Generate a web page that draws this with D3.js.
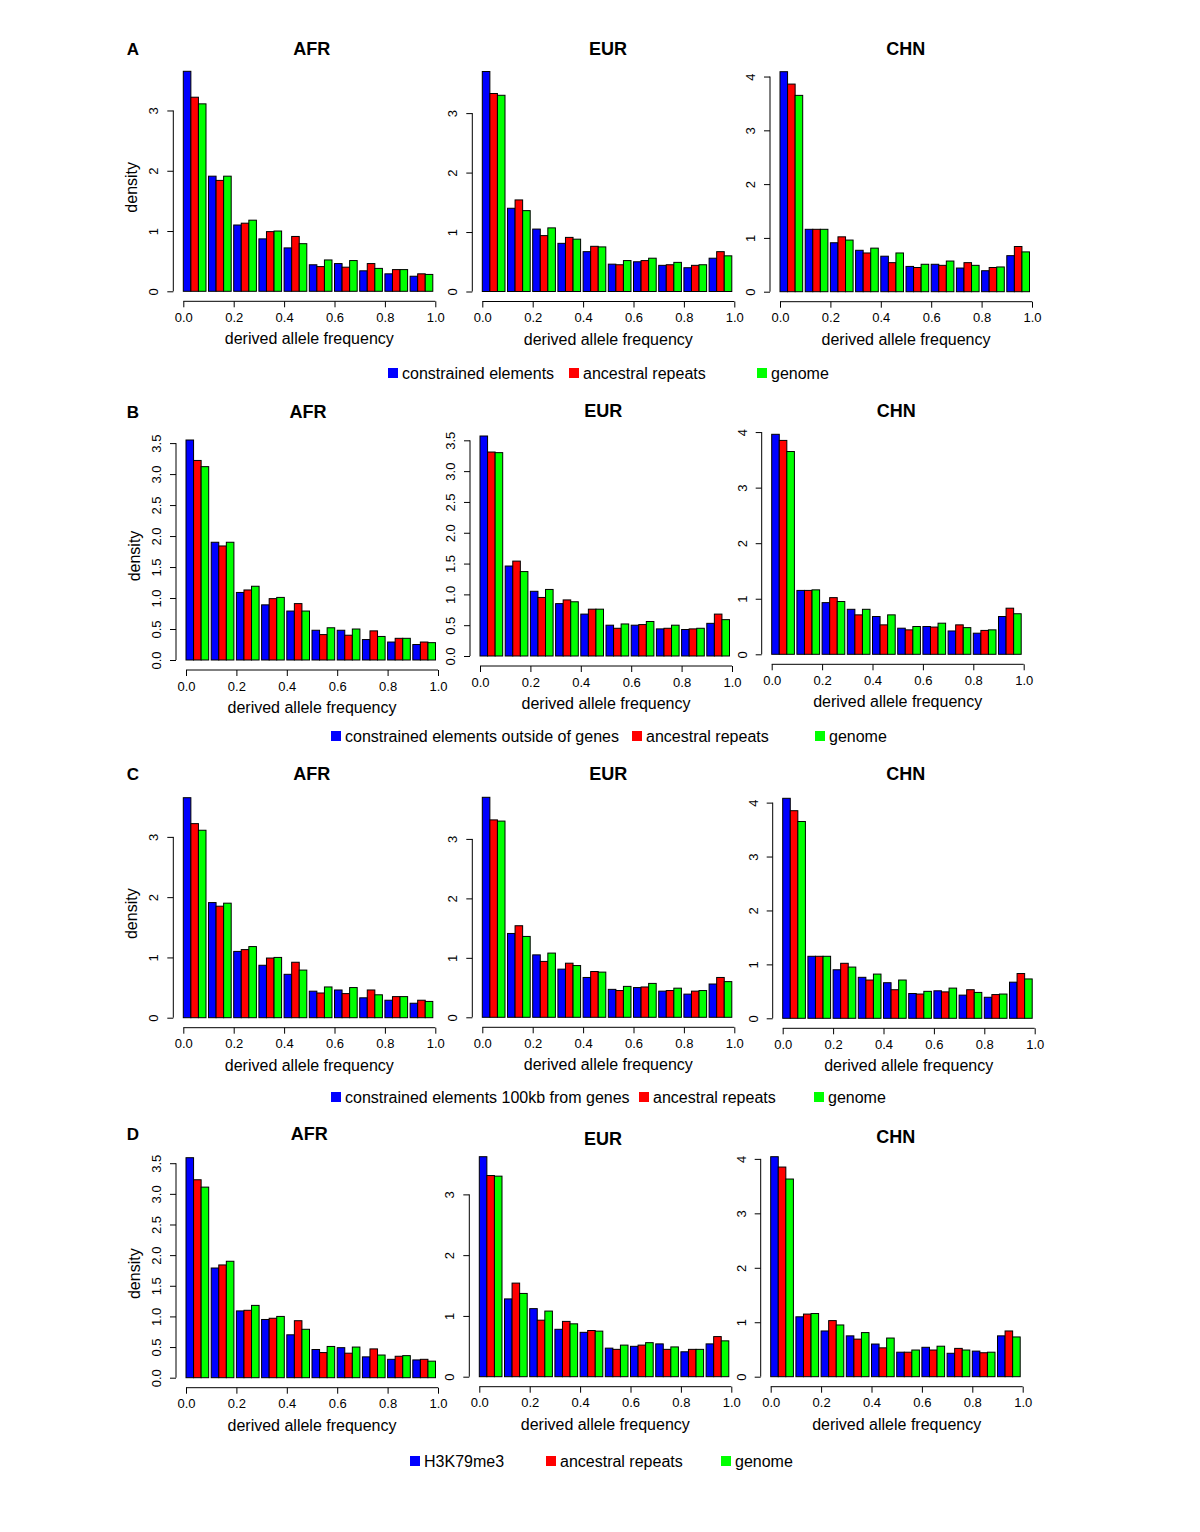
<!DOCTYPE html>
<html><head><meta charset="utf-8">
<script src="https://cdn.jsdelivr.net/npm/d3@7"></script>
<style>
body{margin:0;background:#fff}
svg{display:block}
text{font-family:"Liberation Sans",Arial,Helvetica,sans-serif;fill:#000}
</style>
</head><body>
<svg id="chart" width="1200" height="1532"></svg>
<script>
// ---------------- DATA ----------------
const bins = [0.0, 0.1, 0.2, 0.3, 0.4, 0.5, 0.6, 0.7, 0.8, 0.9];
const xTicks = [0.0, 0.2, 0.4, 0.6, 0.8, 1.0];
const populations = ["AFR", "EUR", "CHN"];
const panelLetters = ["A", "B", "C", "D"];
const xLabel = "derived allele frequency";
const yLabel = "density";

// y tick sets
const ticksInt3 = [0, 1, 2, 3];
const ticksInt4 = [0, 1, 2, 3, 4];
const ticksHalf = [0.0, 0.5, 1.0, 1.5, 2.0, 2.5, 3.0, 3.5];

// legends
const legendA = ["constrained elements", "ancestral repeats", "genome"];
const legendB = ["constrained elements outside of genes", "ancestral repeats", "genome"];
const legendC = ["constrained elements 100kb from genes", "ancestral repeats", "genome"];
const legendD = ["H3K79me3", "ancestral repeats", "genome"];

// Row A
const A_AFR_focal     = [3.65, 1.91, 1.10, 0.87, 0.72, 0.44, 0.46, 0.34, 0.29, 0.25];
const A_AFR_ancestral = [3.22, 1.84, 1.13, 0.99, 0.91, 0.41, 0.40, 0.46, 0.36, 0.29];
const A_AFR_genome    = [3.11, 1.91, 1.18, 1.00, 0.79, 0.52, 0.51, 0.38, 0.36, 0.28];
const A_EUR_focal     = [3.70, 1.40, 1.05, 0.81, 0.67, 0.46, 0.50, 0.44, 0.40, 0.56];
const A_EUR_ancestral = [3.33, 1.54, 0.94, 0.91, 0.76, 0.45, 0.52, 0.45, 0.44, 0.67];
const A_EUR_genome    = [3.30, 1.36, 1.07, 0.88, 0.75, 0.52, 0.56, 0.49, 0.45, 0.60];
const A_CHN_focal     = [4.09, 1.16, 0.91, 0.77, 0.66, 0.47, 0.51, 0.44, 0.39, 0.67];
const A_CHN_ancestral = [3.86, 1.16, 1.02, 0.72, 0.54, 0.45, 0.49, 0.54, 0.45, 0.84];
const A_CHN_genome    = [3.65, 1.16, 0.96, 0.81, 0.72, 0.51, 0.57, 0.49, 0.46, 0.74];

// Row B
const B_AFR_focal     = [3.55, 1.90, 1.09, 0.89, 0.79, 0.48, 0.48, 0.33, 0.29, 0.25];
const B_AFR_ancestral = [3.22, 1.84, 1.13, 0.99, 0.91, 0.41, 0.40, 0.47, 0.35, 0.29];
const B_AFR_genome    = [3.12, 1.90, 1.19, 1.01, 0.79, 0.52, 0.50, 0.38, 0.35, 0.28];
const B_EUR_focal     = [3.57, 1.46, 1.05, 0.85, 0.68, 0.50, 0.50, 0.44, 0.43, 0.53];
const B_EUR_ancestral = [3.31, 1.54, 0.95, 0.91, 0.76, 0.45, 0.51, 0.45, 0.44, 0.68];
const B_EUR_genome    = [3.30, 1.37, 1.08, 0.88, 0.76, 0.52, 0.56, 0.50, 0.45, 0.59];
const B_CHN_focal     = [3.96, 1.15, 0.93, 0.81, 0.68, 0.47, 0.50, 0.42, 0.38, 0.68];
const B_CHN_ancestral = [3.85, 1.15, 1.02, 0.71, 0.53, 0.44, 0.49, 0.53, 0.43, 0.83];
const B_CHN_genome    = [3.65, 1.16, 0.95, 0.81, 0.71, 0.50, 0.56, 0.48, 0.44, 0.73];

// Row C
const C_AFR_focal     = [3.65, 1.91, 1.10, 0.87, 0.72, 0.44, 0.46, 0.33, 0.29, 0.24];
const C_AFR_ancestral = [3.22, 1.85, 1.13, 0.99, 0.92, 0.41, 0.40, 0.46, 0.35, 0.29];
const C_AFR_genome    = [3.11, 1.90, 1.18, 1.00, 0.79, 0.51, 0.50, 0.38, 0.35, 0.27];
const C_EUR_focal     = [3.70, 1.41, 1.05, 0.81, 0.67, 0.47, 0.50, 0.44, 0.39, 0.56];
const C_EUR_ancestral = [3.32, 1.54, 0.94, 0.91, 0.77, 0.45, 0.51, 0.45, 0.44, 0.67];
const C_EUR_genome    = [3.30, 1.36, 1.08, 0.87, 0.76, 0.52, 0.57, 0.49, 0.45, 0.60];
const C_CHN_focal     = [4.08, 1.15, 0.90, 0.76, 0.66, 0.46, 0.51, 0.43, 0.39, 0.67];
const C_CHN_ancestral = [3.85, 1.15, 1.02, 0.71, 0.53, 0.45, 0.49, 0.53, 0.44, 0.83];
const C_CHN_genome    = [3.65, 1.15, 0.95, 0.82, 0.71, 0.50, 0.56, 0.48, 0.45, 0.73];

// Row D
const D_AFR_focal     = [3.59, 1.79, 1.09, 0.95, 0.70, 0.46, 0.49, 0.34, 0.30, 0.29];
const D_AFR_ancestral = [3.23, 1.84, 1.10, 0.97, 0.93, 0.41, 0.40, 0.47, 0.35, 0.30];
const D_AFR_genome    = [3.11, 1.90, 1.18, 1.00, 0.79, 0.51, 0.50, 0.37, 0.36, 0.27];
const D_EUR_focal     = [3.62, 1.28, 1.12, 0.78, 0.73, 0.47, 0.50, 0.54, 0.41, 0.54];
const D_EUR_ancestral = [3.31, 1.54, 0.93, 0.91, 0.76, 0.45, 0.52, 0.45, 0.45, 0.66];
const D_EUR_genome    = [3.30, 1.37, 1.08, 0.87, 0.75, 0.52, 0.56, 0.49, 0.45, 0.59];
const D_CHN_focal     = [4.04, 1.10, 0.84, 0.75, 0.60, 0.45, 0.54, 0.43, 0.47, 0.75];
const D_CHN_ancestral = [3.85, 1.15, 1.03, 0.69, 0.53, 0.45, 0.49, 0.52, 0.44, 0.84];
const D_CHN_genome    = [3.63, 1.16, 0.95, 0.81, 0.71, 0.49, 0.56, 0.49, 0.45, 0.73];

// ---------------- STYLE / LAYOUT ----------------
const colors = ["#0000ff", "#ff0000", "#00ff00"];
const plotW = 252;      // px for x from 0 to 1
const plotHmax = 220;   // px for tallest bar

const rows = [
  { letter: "A", legend: legendA, legendY: 373, legendX: [388, 569, 757], letterY: 48,
    series: [[A_AFR_focal, A_AFR_ancestral, A_AFR_genome], [A_EUR_focal, A_EUR_ancestral, A_EUR_genome], [A_CHN_focal, A_CHN_ancestral, A_CHN_genome]],
    ticks: [ticksInt3, ticksInt3, ticksInt4],
    panels: [{x0:183.3, y0:291.3, tx:311.7, ty:48}, {x0:482.3, y0:291.5, tx:608, ty:48}, {x0:780, y0:291.7, tx:905.7, ty:48}] },
  { letter: "B", legend: legendB, legendY: 736, legendX: [331, 632, 815], letterY: 411.7,
    series: [[B_AFR_focal, B_AFR_ancestral, B_AFR_genome], [B_EUR_focal, B_EUR_ancestral, B_EUR_genome], [B_CHN_focal, B_CHN_ancestral, B_CHN_genome]],
    ticks: [ticksHalf, ticksHalf, ticksInt4],
    panels: [{x0:186, y0:660, tx:308, ty:411.7}, {x0:480, y0:656, tx:603.3, ty:410}, {x0:771.7, y0:654.3, tx:896.2, ty:410}] },
  { letter: "C", legend: legendC, legendY: 1097, legendX: [331, 639, 814], letterY: 773.3,
    series: [[C_AFR_focal, C_AFR_ancestral, C_AFR_genome], [C_EUR_focal, C_EUR_ancestral, C_EUR_genome], [C_CHN_focal, C_CHN_ancestral, C_CHN_genome]],
    ticks: [ticksInt3, ticksInt3, ticksInt4],
    panels: [{x0:183.3, y0:1017.7, tx:311.7, ty:773.3}, {x0:482.3, y0:1017.3, tx:608.3, ty:773.3}, {x0:782.7, y0:1018.3, tx:905.7, ty:773.3}] },
  { letter: "D", legend: legendD, legendY: 1461, legendX: [410, 546, 721], letterY: 1133.3,
    series: [[D_AFR_focal, D_AFR_ancestral, D_AFR_genome], [D_EUR_focal, D_EUR_ancestral, D_EUR_genome], [D_CHN_focal, D_CHN_ancestral, D_CHN_genome]],
    ticks: [ticksHalf, ticksInt3, ticksInt4],
    panels: [{x0:186, y0:1377.7, tx:309.2, ty:1133.3}, {x0:479.3, y0:1376.7, tx:603, ty:1138.3}, {x0:770.7, y0:1376.7, tx:895.7, ty:1136.7}] }
];

const svg = d3.select("#chart");
svg.append("rect").attr("width", 1200).attr("height", 1532).attr("fill", "#fff");

rows.forEach(row => {
  // panel letter
  svg.append("text").attr("x", 133).attr("y", row.letterY + 6.5)
    .attr("text-anchor", "middle").attr("font-size", 17).attr("font-weight", "bold").text(row.letter);

  row.panels.forEach((p, pi) => {
    const series = row.series[pi];
    const maxV = d3.max(series.flat());
    const x = d3.scaleLinear().domain([0, 1]).range([p.x0, p.x0 + plotW]);
    const y = d3.scaleLinear().domain([0, maxV]).range([p.y0, p.y0 - plotHmax]);
    const binW = 0.1;
    const barW = binW / 3.33;
    const g = svg.append("g");

    // bars
    series.forEach((vals, si) => {
      g.selectAll(null).data(vals).enter().append("rect")
        .attr("x", (d, i) => x(bins[i] + si * barW))
        .attr("width", x(barW) - x(0))
        .attr("y", d => y(d))
        .attr("height", d => y(0) - y(d))
        .attr("fill", colors[si])
        .attr("stroke", "#000")
        .attr("stroke-width", 1);
    });

    // y axis
    const yAxisX = p.x0 - 10;
    const ticks = row.ticks[pi];
    const fmt = ticks === ticksHalf ? d3.format(".1f") : d3.format("d");
    const ya = svg.append("g").attr("transform", `translate(${yAxisX},0)`)
      .call(d3.axisLeft(y).tickValues(ticks).tickFormat(fmt).tickSize(6).tickSizeOuter(0));
    ya.select(".domain").remove();
    ya.append("line").attr("x1", 0).attr("x2", 0)
      .attr("y1", y(ticks[0])).attr("y2", y(ticks[ticks.length - 1]))
      .attr("stroke", "#000").attr("stroke-width", 1);
    ya.selectAll(".tick line").attr("stroke", "#000");
    ya.selectAll(".tick text")
      .attr("font-family", "Liberation Sans, Arial, sans-serif")
      .attr("font-size", 13).attr("fill", "#000")
      .attr("x", null).attr("dy", null)
      .attr("text-anchor", "middle")
      .attr("transform", "translate(-15,0) rotate(-90)");

    // x axis
    const xAxisY = p.y0 + 10;
    const xa = svg.append("g").attr("transform", `translate(0,${xAxisY})`)
      .call(d3.axisBottom(x).tickValues(xTicks).tickFormat(d3.format(".1f")).tickSize(6).tickSizeOuter(0));
    xa.select(".domain").attr("stroke", "#000").attr("d", `M${x(0)},0H${x(1)}`);
    xa.selectAll(".tick line").attr("stroke", "#000");
    xa.selectAll(".tick text")
      .attr("font-family", "Liberation Sans, Arial, sans-serif")
      .attr("font-size", 13).attr("fill", "#000")
      .attr("dy", null).attr("y", 20.5);

    // x label
    svg.append("text").attr("x", (x(0) + x(1)) / 2).attr("y", xAxisY + 43)
      .attr("text-anchor", "middle").attr("font-size", 16).text(xLabel);

    // y label on first panel
    if (pi === 0) {
      svg.append("text")
        .attr("transform", `translate(${yAxisX - 36},${p.y0 - 104}) rotate(-90)`)
        .attr("text-anchor", "middle").attr("font-size", 16).text(yLabel);
    }

    // title
    svg.append("text").attr("x", p.tx).attr("y", p.ty + 6.5)
      .attr("text-anchor", "middle").attr("font-size", 18).attr("font-weight", "bold")
      .text(populations[pi]);
  });

  // legend
  row.legend.forEach((lab, li) => {
    const lx = row.legendX[li];
    svg.append("rect").attr("x", lx).attr("y", row.legendY - 5)
      .attr("width", 10).attr("height", 10).attr("fill", colors[li]);
    svg.append("text").attr("x", lx + 14).attr("y", row.legendY + 5.5)
      .attr("font-size", 16).text(lab);
  });
});
</script>
</body></html>
